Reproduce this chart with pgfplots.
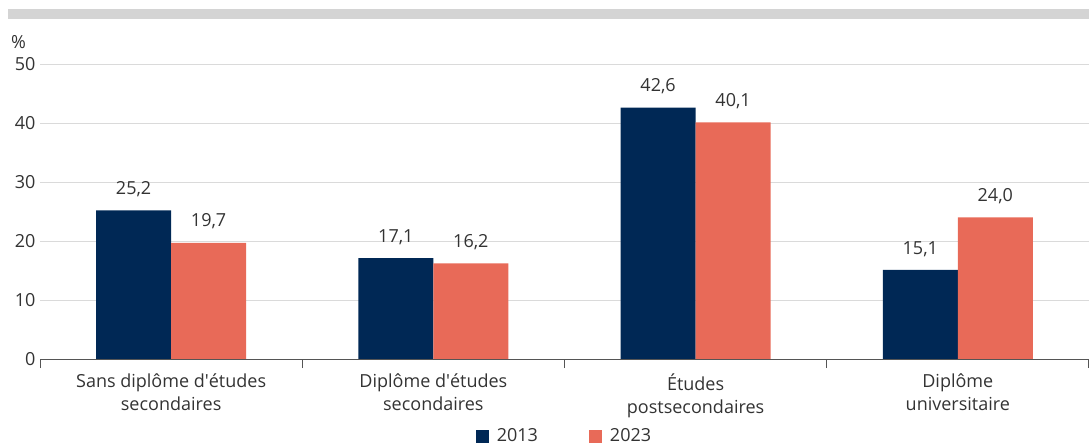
\documentclass[border=0pt]{standalone}
\usepackage{pgfplots}
\pgfplotsset{compat=1.18}
\usepackage{fontspec}
\setmainfont{Open Sans}
\definecolor{navy}{HTML}{002855}
\definecolor{salmon}{HTML}{E86A58}
\definecolor{txt}{HTML}{333333}
\definecolor{gridc}{HTML}{DADADA}
\definecolor{axisc}{HTML}{555555}
\definecolor{topbar}{HTML}{D4D4D4}
\begin{document}
\begin{tikzpicture}[x=1pt,y=1pt]
\path[use as bounding box] (0,0) rectangle (1089,-445);
\fill[topbar] (8,-9) rectangle (1089,-19);
\node[anchor=west, text=txt, font=\fontsize{18}{21}\selectfont, inner sep=0pt] at (11,-42) {\%};
\begin{axis}[
  at={(40pt,-359pt)}, anchor=south west,
  scale only axis, width=1049pt, height=295pt,
  xmin=-0.5, xmax=3.5, ymin=0, ymax=50,
  ybar=0pt, bar width=75pt,
  /pgf/number format/assume math mode=true,
  axis line style={draw=none},
  tick pos=left,
  ytick={0,10,...,50},
  ytick style={draw=none},
  ymajorgrids, grid style={gridc, line width=0.9pt},
  yticklabel style={text=txt, font=\fontsize{18}{21}\selectfont, xshift=-1pt},
  xtick={0,1,2,3},
  xticklabels={{Sans diplôme d\textquotesingle études\\secondaires},{Diplôme d\textquotesingle études\\secondaires},{Études\\postsecondaires},{Diplôme\\universitaire}},
  xticklabel style={align=center, text=txt, font=\fontsize{18}{23}\selectfont, yshift=-7pt},
  xtick style={draw=none},
  extra x ticks={-0.5,0.5,1.5,2.5,3.5},
  extra x tick labels={},
  extra x tick style={tick align=outside, major tick length=9pt, xtick style={draw=axisc, line width=1pt}},
  nodes near coords,
  point meta=y,
  nodes near coords style={text=txt, font=\fontsize{18}{21}\selectfont, anchor=south, yshift=10pt,
    /pgf/number format/.cd, use comma, fixed, fixed zerofill, precision=1, assume math mode=true},
  legend columns=2,
  legend style={draw=none, at={(axis description cs:0.5,0)}, yshift=-77pt, anchor=center,
    text=txt, font=\fontsize{18}{21}\selectfont,
    /tikz/every even column/.append style={column sep=49pt}},
  legend image code/.code={\fill[#1,/tikz/.cd,draw=none] (0pt,-6.5pt) rectangle (13pt,6.5pt);},
]
\addplot[fill=navy, draw=none] coordinates {(0,25.2) (1,17.1) (2,42.6) (3,15.1)};
\addplot[fill=salmon, draw=none] coordinates {(0,19.7) (1,16.2) (2,40.1) (3,24.0)};
\draw[axisc, line width=1pt] (axis cs:-0.5,0) -- (axis cs:3.5,0);
\legend{\hspace*{6pt}2013,\hspace*{6pt}2023}
\end{axis}
\end{tikzpicture}
\end{document}
